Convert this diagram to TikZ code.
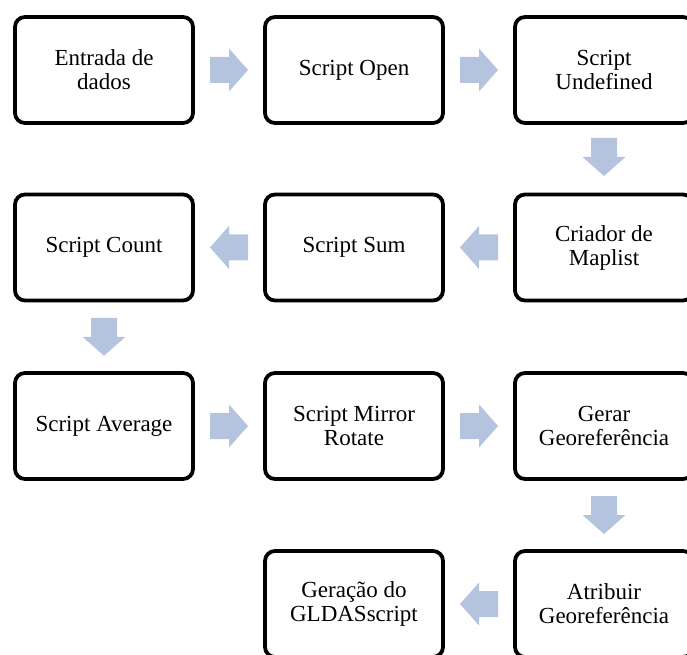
\documentclass[tikz,border=0pt]{standalone}
\usepackage{fontspec}
\setmainfont{Liberation Serif}
\usetikzlibrary{calc}
\definecolor{arrowblue}{RGB}{180,196,223}
\tikzset{
  stepbox/.style={draw=black, line width=3.8pt, rounded corners=10pt,
    minimum width=178pt, minimum height=106pt, align=center,
    font=\fontsize{23}{24}\selectfont},
  blockarrow/.pic={
    \fill[arrowblue] (-19,-13) -- (0,-13) -- (0,-21.5) -- (19,0)
      -- (0,21.5) -- (0,13) -- (-19,13) -- cycle;
  }
}
\begin{document}
\begin{tikzpicture}[x=1pt,y=1pt]
    \useasboundingbox (0,0) rectangle (687,654);
    \clip (0,0) rectangle (687,654);

    % Row 1
    \node[stepbox] (entrada) at (104,584) {Entrada de\\dados};
    \node[stepbox] (open) at (354,584) {Script Open};
    \node[stepbox] (undef) at (604,584) {Script\\Undefined};
    % Row 2
    \node[stepbox] (count) at (104,406.5) {Script Count};
    \node[stepbox] (sum) at (354,406.5) {Script Sum};
    \node[stepbox] (maplist) at (604,406.5) {Criador de\\Maplist};
    % Row 3
    \node[stepbox] (average) at (104,228) {Script Average};
    \node[stepbox] (mirror) at (354,228) {Script Mirror\\Rotate};
    \node[stepbox] (gerar) at (604,228) {Gerar\\Georeferência};
    % Row 4
    \node[stepbox] (gldas) at (354,50) {Geração do\\GLDASscript};
    \node[stepbox] (atribuir) at (604,50) {Atribuir\\Georeferência};

    % Block arrows between the steps
    \pic at ($(entrada)!0.5!(open)$) {blockarrow};
    \pic at ($(open)!0.5!(undef)$) {blockarrow};
    \pic[rotate=-90] at ($(undef)!0.49!(maplist)$) {blockarrow};
    \pic[rotate=180] at ($(maplist)!0.5!(sum)$) {blockarrow};
    \pic[rotate=180] at ($(sum)!0.5!(count)$) {blockarrow};
    \pic[rotate=-90] at ($(count)!0.5!(average)$) {blockarrow};
    \pic at ($(average)!0.5!(mirror)$) {blockarrow};
    \pic at ($(mirror)!0.5!(gerar)$) {blockarrow};
    \pic[rotate=-90] at ($(gerar)!0.5!(atribuir)$) {blockarrow};
    \pic[rotate=180] at ($(atribuir)!0.5!(gldas)$) {blockarrow};
\end{tikzpicture}
\end{document}
